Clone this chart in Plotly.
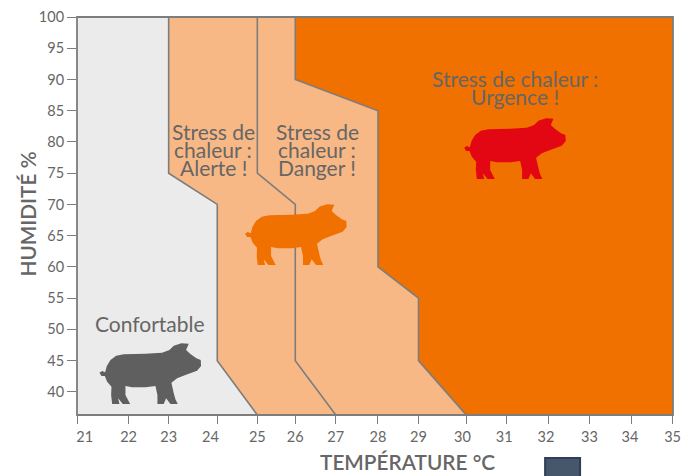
import numpy as np
import plotly.graph_objects as go

# --- data ---
temperatures = list(range(21, 36))
# the printed temperature scale is irregular: where each degree sits on the axis
temp_axis_pos = [21.00, 22.21, 23.15, 24.29, 25.23, 26.12, 27.07, 28.06, 29.01, 30.13,
                 31.07, 32.06, 33.01, 34.01, 34.96]
temp_label_pos = [21.18, 22.21, 23.15, 24.13, 25.23, 26.12, 27.07, 28.06, 29.01, 30.04,
                  31.02, 32.00, 33.02, 33.97, 34.97]
humidity_ticks = [100, 95, 90, 85, 80, 75, 70, 65, 60, 55, 50, 45, 40]
humidity_floor = 36.3

alert_temp = [23, 23, 24, 24, 25]
alert_hum = [100, 75, 70, 45, humidity_floor]
danger_temp = [25, 25, 26, 26, 27]
danger_hum = [100, 75, 70, 45, humidity_floor]
urgent_temp = [26, 26, 28, 28, 29, 29, 30]
urgent_hum = [100, 90, 85, 60, 55, 45, humidity_floor]

GREY = "#666666"
LINE = "#7d7d7d"
FONT = "Lato"
W, H = 682, 476
L, R, T, B = 76.5, 673, 17, 415


def xp(px):
    return (px - L) / (R - L)


def yp(py):
    return (B - py) / (B - T)


def axis_x(temps):
    return np.interp(temps, temperatures, temp_axis_pos).tolist()


fig = go.Figure()


def region(temps, hums, color):
    xs = axis_x(temps)
    fig.add_trace(go.Scatter(x=xs + [35, 35], y=hums + [humidity_floor, 100], fill="toself",
                             fillcolor=color, mode="none", hoverinfo="skip", showlegend=False))


def boundary(temps, hums):
    fig.add_trace(go.Scatter(x=axis_x(temps), y=hums, mode="lines",
                             line=dict(color=LINE, width=1.6), hoverinfo="skip", showlegend=False))


region(alert_temp, alert_hum, "#f8b885")
region(urgent_temp, urgent_hum, "#f07000")
boundary(alert_temp, alert_hum)
boundary(danger_temp, danger_hum)
boundary(urgent_temp, urgent_hum)

# pig silhouette, drawn as a decoration (outline in its own local units)
pig_outline = [(12, 98), (20, 93), (29, 97), (34, 78), (45, 60), (62, 47), (85, 43), (150, 41), (200, 38),
               (222, 30), (235, 17), (258, 10), (280, 11), (272, 30), (285, 42), (303, 55), (316, 60),
               (317, 78), (305, 92), (270, 105), (245, 115), (228, 128), (235, 160), (240, 178), (247, 192),
               (225, 192), (212, 175), (205, 192), (186, 192), (186, 165), (180, 138), (150, 142), (110, 142),
               (90, 138), (90, 165), (104, 192), (82, 192), (68, 175), (72, 192), (50, 192), (47, 165),
               (48, 140), (35, 125), (28, 108), (18, 108)]


def pig_path(ox, oy):
    pts = [f"{xp(ox + a / 3):.5f},{yp(oy + b / 3):.5f}" for a, b in pig_outline]
    return "M" + " L".join(pts) + " Z"


shapes = [
    dict(type="path", path=pig_path(95, 340), xref="paper", yref="paper", fillcolor="#5f5f5f", line_width=0),
    dict(type="path", path=pig_path(240.7, 201), xref="paper", yref="paper", fillcolor="#f07000", line_width=0),
    dict(type="path", path=pig_path(460, 115), xref="paper", yref="paper", fillcolor="#e30613", line_width=0),
    # frame
    dict(type="rect", x0=0, x1=1, y0=0, y1=1, xref="paper", yref="paper", line=dict(color=LINE, width=1.8),
         fillcolor="rgba(0,0,0,0)"),
    # stray square at the bottom of the picture
    dict(type="rect", x0=xp(545), x1=xp(580), y0=yp(458), y1=yp(480), xref="paper", yref="paper",
         fillcolor="#46566b", line=dict(color="#2f3e55", width=2)),
]

labels = [
    ("Stress de", 213, 131), ("chaleur :", 213, 149), ("Alerte !", 213, 167),
    ("Stress de", 317, 131), ("chaleur :", 317, 149), ("Danger !", 317, 167),
    ("Stress de chaleur :", 515, 78), ("Urgence !", 515, 96),
    ("Confortable", 150, 323),
]
annotations = [dict(text=t, x=xp(px), y=yp(py), xref="paper", yref="paper", showarrow=False,
                    xanchor="center", yanchor="middle",
                    font=dict(family=FONT, size=21, color=GREY))
               for t, px, py in labels]
annotations.append(dict(text="TEMPÉRATURE °C", x=xp(407), y=yp(461), xref="paper", yref="paper", showarrow=False,
                        xanchor="center", yanchor="middle", font=dict(family=FONT, size=20.8, weight=600, color=GREY)))
annotations.append(dict(text="HUMIDITÉ %", x=xp(26), y=yp(214), xref="paper", yref="paper", showarrow=False,
                        textangle=-90, xanchor="center", yanchor="middle",
                        font=dict(family=FONT, size=20.8, weight=600, color=GREY)))

fig.update_layout(
    width=W, height=H, autosize=False,
    margin=dict(l=L, r=W - R, t=T, b=H - B, pad=0, autoexpand=False),
    paper_bgcolor="white", plot_bgcolor="#ebebeb",
    shapes=shapes, annotations=annotations, showlegend=False,
    xaxis=dict(range=[21, 34.98], tickmode="array", tickvals=temp_label_pos, ticktext=[str(t) for t in temperatures],
               ticks="outside", ticklen=9, tickwidth=0, tickcolor="rgba(0,0,0,0)", automargin=False,
               minor=dict(tickmode="array", tickvals=temp_axis_pos, ticks="outside", ticklen=8, tickwidth=1.3,
                          tickcolor=LINE, showgrid=False),
               showgrid=False, zeroline=False, showline=False,
               tickfont=dict(family=FONT, size=14.5, color=GREY)),
    yaxis=dict(range=[humidity_floor, 100], tickmode="array", tickvals=humidity_ticks,
               ticktext=[str(v) for v in humidity_ticks], ticks="outside", ticklen=9, tickwidth=1.3, tickcolor=LINE,
               automargin=False, showgrid=False, zeroline=False, showline=False,
               tickfont=dict(family=FONT, size=14.5, color=GREY)),
)

fig.write_html("out.html", config={"displayModeBar": False}, post_script="document.body.style.margin='0';")
